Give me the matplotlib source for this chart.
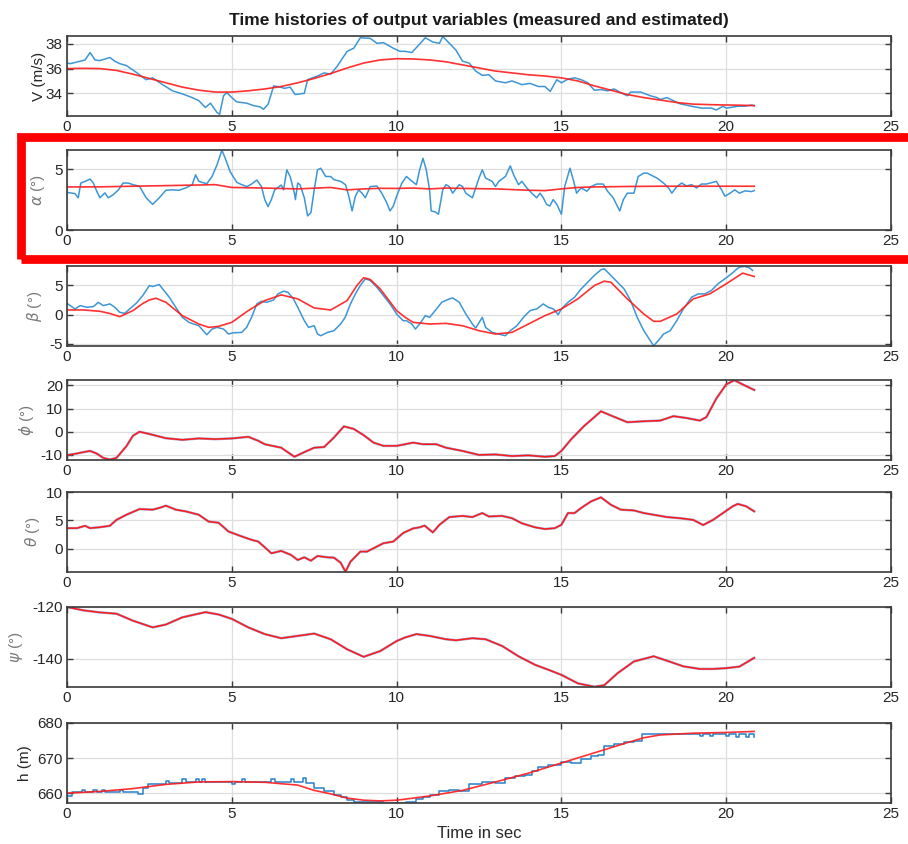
import numpy as np
import matplotlib
matplotlib.use("Agg")
import matplotlib.pyplot as plt
from matplotlib.patches import Rectangle

plt.rcParams['font.family'] = ['Liberation Sans Narrow', 'Liberation Sans', 'DejaVu Sans']
plt.rcParams['mathtext.fontset'] = 'dejavusans'
plt.rcParams['axes.unicode_minus'] = False

# ---- airspeed V (m/s) ----
t_V_meas = [0, 0.1, 0.25, 0.4, 0.55, 0.7, 0.85, 1.0, 1.3, 1.45, 1.6, 1.8, 2.1, 2.4, 2.6, 2.9,
            3.2, 3.5, 3.8, 4.0, 4.2, 4.35, 4.55, 4.63, 4.75, 4.85, 5.0, 5.15, 5.45, 5.66, 5.86,
            5.96, 6.1, 6.27, 6.47, 6.6, 6.77, 6.92, 7.2, 7.3, 7.6, 7.8, 8.0, 8.2, 8.5, 8.7, 8.9,
            9.2, 9.4, 9.6, 9.9, 10.1, 10.26, 10.46, 10.67, 10.87, 11.1, 11.3, 11.4, 11.6, 11.8,
            12.0, 12.2, 12.4, 12.6, 12.8, 13.0, 13.3, 13.5, 13.8, 14.05, 14.3, 14.5, 14.66,
            14.86, 15.0, 15.2, 15.4, 15.6, 15.8, 16.0, 16.2, 16.4, 16.6, 16.8, 17.0, 17.1, 17.4,
            17.7, 17.9, 18.0, 18.2, 18.4, 18.6, 18.95, 19.25, 19.55, 19.7, 19.9, 20.0, 20.36,
            20.56, 20.77, 20.85]
V_meas = [36.45, 36.4, 36.5, 36.6, 36.7, 37.3, 36.7, 36.65, 36.9, 36.6, 36.4, 36.25, 35.7, 35.1,
          35.25, 34.7, 34.2, 33.95, 33.65, 33.4, 32.85, 33.2, 32.45, 32.3, 33.8, 34.05, 33.65,
          33.3, 33.2, 33.0, 32.9, 32.7, 33.1, 34.6, 34.5, 34.4, 34.5, 33.9, 34.0, 35.1, 35.4,
          35.65, 35.55, 36.2, 37.4, 37.65, 38.5, 38.45, 38.05, 38.1, 37.65, 37.4, 37.4, 37.3,
          37.9, 38.5, 38.15, 38.05, 38.6, 38.05, 37.5, 36.6, 36.45, 35.8, 35.45, 35.5, 35.0,
          34.85, 35.0, 34.7, 34.8, 34.55, 34.55, 34.15, 35.1, 34.85, 35.15, 35.25, 35.1, 34.85,
          34.25, 34.3, 34.2, 34.35, 34.05, 33.8, 34.1, 34.1, 33.8, 33.65, 33.5, 33.65, 33.4,
          33.15, 32.95, 32.8, 32.8, 32.65, 32.95, 32.8, 32.95, 32.95, 33.05, 33.0]
t_V_est = [0, 0.5, 1.0, 1.5, 2.0, 2.5, 3.0, 3.5, 4.0, 4.5, 5.0, 5.5, 6.0, 6.5, 7.0, 7.5, 8.0,
           8.5, 9.0, 9.5, 10.0, 10.5, 11.0, 11.5, 12.0, 12.5, 13.0, 13.5, 14.0, 14.5, 15.0,
           15.5, 16.0, 16.5, 17.0, 17.5, 18.0, 18.5, 19.0, 19.5, 20.0, 20.5, 20.85]
V_est = [36.0, 36.02, 36.0, 35.85, 35.55, 35.2, 34.85, 34.5, 34.25, 34.1, 34.1, 34.2, 34.35,
         34.55, 34.85, 35.2, 35.6, 36.05, 36.45, 36.7, 36.8, 36.78, 36.7, 36.55, 36.3, 36.05,
         35.8, 35.65, 35.5, 35.4, 35.25, 35.0, 34.6, 34.25, 33.9, 33.65, 33.45, 33.25, 33.12,
         33.08, 33.05, 33.03, 33.0]

# ---- angle of attack alpha (deg) ----
t_a_meas = [0, 0.1, 0.24, 0.34, 0.42, 0.55, 0.7, 0.8, 0.9, 1.0, 1.15, 1.25, 1.4, 1.56, 1.7,
            1.86, 2.0, 2.2, 2.4, 2.6, 2.8, 3.0, 3.2, 3.4, 3.6, 3.8, 3.9, 4.0, 4.24, 4.4, 4.55,
            4.7, 4.8, 4.95, 5.15, 5.3, 5.46, 5.6, 5.76, 5.9, 6.0, 6.1, 6.2, 6.3, 6.5, 6.57,
            6.67, 6.77, 6.9, 6.93, 7.0, 7.07, 7.2, 7.3, 7.4, 7.5, 7.6, 7.7, 7.85, 8.0, 8.1, 8.3,
            8.45, 8.55, 8.65, 8.75, 8.85, 8.95, 9.05, 9.2, 9.4, 9.55, 9.7, 9.8, 9.9, 10.0,
            10.16, 10.3, 10.47, 10.6, 10.7, 10.8, 10.9, 11.0, 11.05, 11.17, 11.27, 11.4, 11.5,
            11.6, 11.7, 11.9, 12.0, 12.1, 12.3, 12.4, 12.5, 12.6, 12.7, 12.9, 13.0, 13.1, 13.3,
            13.45, 13.55, 13.7, 13.8, 13.95, 14.1, 14.25, 14.35, 14.45, 14.55, 14.65, 14.75,
            14.86, 15.0, 15.1, 15.26, 15.36, 15.46, 15.6, 15.77, 15.9, 16.07, 16.27, 16.4,
            16.57, 16.77, 16.88, 17.0, 17.2, 17.33, 17.5, 17.6, 17.8, 17.9, 18.1, 18.25, 18.35,
            18.5, 18.65, 18.8, 18.95, 19.1, 19.25, 19.4, 19.55, 19.7, 19.86, 19.96, 20.1, 20.26,
            20.4, 20.57, 20.77, 20.85]
a_meas = [3.1, 3.05, 3.0, 2.65, 3.86, 4.0, 4.19, 3.86, 3.2, 2.65, 3.05, 2.65, 2.9, 3.3, 3.86,
          3.86, 3.73, 3.6, 2.65, 2.11, 2.65, 3.27, 3.3, 3.27, 3.46, 3.73, 4.54, 4.0, 3.8, 4.4,
          5.35, 6.57, 5.9, 4.8, 3.92, 3.73, 3.57, 3.78, 4.11, 3.57, 2.5, 1.92, 2.5, 3.3, 3.7,
          3.3, 4.95, 4.4, 3.03, 2.5, 3.86, 3.73, 2.65, 1.16, 1.43, 3.3, 4.95, 5.08, 4.4, 4.4,
          4.14, 4.0, 3.73, 2.78, 1.57, 2.78, 3.3, 3.03, 2.65, 3.57, 3.62, 3.03, 2.24, 1.57,
          1.97, 2.78, 3.86, 4.4, 4.0, 3.73, 4.95, 5.9, 4.95, 3.3, 1.57, 1.49, 1.3, 3.3, 3.73,
          3.57, 3.03, 3.73, 3.57, 3.03, 2.65, 3.46, 4.27, 4.95, 4.27, 4.0, 3.57, 4.0, 4.4, 5.27,
          4.54, 3.73, 4.0, 3.46, 3.03, 2.65, 3.03, 2.65, 2.11, 1.97, 2.5, 2.11, 1.3, 3.57, 5.08,
          4.14, 3.03, 3.46, 3.19, 3.57, 3.78, 3.78, 3.19, 2.65, 1.57, 2.5, 3.03, 3.03, 4.4,
          4.68, 4.68, 4.4, 4.27, 3.86, 3.46, 3.03, 3.57, 3.86, 3.62, 3.73, 3.46, 3.78, 3.78,
          3.89, 4.0, 3.3, 2.78, 3.0, 3.3, 3.03, 3.22, 3.16, 3.24]
t_a_est = [0, 1, 2, 3, 4, 4.5, 5, 6, 7, 8, 8.5, 9, 9.5, 10, 10.5, 11, 11.5, 12, 13, 14, 14.5,
           15, 15.5, 16, 17, 18, 19, 20, 20.85]
a_est = [3.54, 3.55, 3.6, 3.65, 3.7, 3.73, 3.5, 3.45, 3.38, 3.5, 3.3, 3.38, 3.43, 3.42, 3.45,
         3.38, 3.45, 3.42, 3.38, 3.27, 3.24, 3.38, 3.5, 3.54, 3.58, 3.6, 3.6, 3.6, 3.6]

# ---- sideslip beta (deg) ----
t_b_meas = [0, 0.14, 0.24, 0.4, 0.6, 0.8, 0.95, 1.1, 1.3, 1.45, 1.6, 1.75, 1.9, 2.1, 2.3, 2.5,
            2.6, 2.8, 2.9, 3.1, 3.3, 3.5, 3.7, 3.84, 4.0, 4.24, 4.4, 4.55, 4.75, 4.9, 5.05, 5.3,
            5.45, 5.6, 5.76, 5.9, 6.06, 6.27, 6.4, 6.57, 6.7, 6.87, 7.0, 7.2, 7.33, 7.5, 7.6,
            7.7, 7.9, 8.1, 8.3, 8.44, 8.6, 8.75, 8.9, 9.05, 9.2, 9.4, 9.6, 9.8, 10.0, 10.2,
            10.3, 10.46, 10.57, 10.7, 10.87, 11.0, 11.17, 11.37, 11.6, 11.7, 11.9, 12.1, 12.3,
            12.4, 12.6, 12.7, 12.9, 13.1, 13.3, 13.45, 13.65, 13.85, 14.05, 14.25, 14.45, 14.6,
            14.76, 14.9, 15.0, 15.2, 15.4, 15.6, 15.8, 16.0, 16.2, 16.3, 16.5, 16.7, 16.9, 17.1,
            17.3, 17.5, 17.7, 17.8, 17.98, 18.1, 18.3, 18.5, 18.7, 18.95, 19.15, 19.35, 19.55,
            19.75, 19.96, 20.16, 20.3, 20.4, 20.56, 20.7, 20.8]
b_meas = [1.94, 1.37, 0.97, 1.54, 1.26, 1.37, 2.1, 1.54, 1.83, 1.26, 0.4, 0.23, 0.97, 1.94,
          3.26, 4.97, 4.8, 5.14, 4.4, 3.0, 1.26, -0.46, -1.31, -1.6, -1.89, -3.43, -2.46,
          -2.17, -2.46, -3.31, -3.09, -3.03, -2.17, -0.46, 1.83, 2.29, 2.11, 2.51, 3.54, 4.0,
          3.83, 2.69, 1.26, -1.03, -2.17, -1.89, -3.31, -3.6, -3.03, -2.74, -1.6, -0.46, 1.83,
          3.54, 4.97, 6.11, 5.83, 4.69, 3.26, 1.83, 0.11, -1.03, -1.03, -1.6, -2.46, -1.6,
          -0.17, -0.46, 0.69, 2.11, 2.69, 2.86, 2.11, 0.11, -1.6, -2.29, -0.46, -2.17, -3.03,
          -3.31, -3.6, -2.74, -1.89, -0.46, 0.69, 0.97, 1.83, 1.26, 0.97, 0.0, 0.97, 2.11, 2.97,
          4.4, 5.54, 6.69, 7.66, 7.83, 6.69, 5.54, 4.4, 2.4, -0.46, -2.74, -4.46, -5.31, -4.17,
          -3.31, -2.74, -1.03, 0.97, 2.97, 3.54, 3.54, 4.11, 5.26, 6.11, 6.97, 7.66, 8.11,
          8.23, 8.0, 7.54]
t_b_est = [0, 0.5, 1.0, 1.3, 1.6, 2.0, 2.3, 2.5, 2.7, 3.0, 3.5, 4.0, 4.3, 4.6, 5.0, 5.5, 6.0,
           6.5, 7.0, 7.5, 8.0, 8.5, 8.8, 9.0, 9.2, 9.5, 10.0, 10.26, 10.5, 11.0, 11.5, 12.0,
           12.5, 13.0, 13.5, 14.0, 14.5, 15.0, 15.5, 16.0, 16.3, 16.5, 17.0, 17.5, 17.8, 18.0,
           18.5, 19.0, 19.5, 20.0, 20.5, 20.85]
b_est = [0.8, 0.8, 0.57, 0.2, -0.34, 0.69, 1.9, 2.51, 2.8, 2.11, -0.17, -1.6, -2.17, -2.0,
         -1.31, 0.69, 2.4, 3.37, 2.69, 1.14, 0.8, 2.4, 5.0, 6.3, 6.0, 4.4, 0.69, -0.46, -1.31,
         -1.6, -1.49, -1.89, -2.74, -3.31, -3.03, -1.6, -0.17, 0.97, 2.69, 4.97, 5.71, 5.54,
         2.69, 0.11, -1.14, -1.14, 0.11, 2.69, 3.54, 5.26, 7.09, 6.51]

# ---- bank angle phi (deg) ----
t_phi = [0, 0.3, 0.5, 0.7, 0.9, 1.1, 1.3, 1.5, 1.8, 2.0, 2.2, 2.5, 3.0, 3.5, 4.0, 4.5, 5.0,
         5.5, 5.8, 6.0, 6.5, 6.9, 7.2, 7.5, 7.8, 8.1, 8.4, 8.7, 9.0, 9.3, 9.6, 10.0, 10.26,
         10.5, 10.8, 11.2, 11.5, 12.0, 12.5, 13.0, 13.5, 14.0, 14.5, 14.8, 15.0, 15.3, 15.7,
         16.0, 16.2, 16.5, 17.0, 17.5, 18.0, 18.4, 18.8, 19.2, 19.4, 19.7, 20.0, 20.25, 20.5,
         20.85]
phi = [-10.1, -9.4, -8.8, -8.3, -9.4, -11.3, -12.0, -11.3, -6.3, -1.76, 0.0, -1.0, -2.8,
       -3.5, -2.9, -3.2, -2.9, -2.2, -3.9, -5.4, -6.9, -10.8, -8.8, -6.9, -6.6, -2.5, 2.3,
       1.2, -1.5, -4.7, -6.1, -6.1, -5.4, -4.7, -5.4, -5.4, -6.9, -8.3, -10.0, -9.8, -10.5,
       -10.2, -10.8, -10.5, -8.3, -3.2, 2.6, 6.3, 8.8, 7.0, 4.1, 4.5, 4.8, 6.7, 5.9, 4.8, 6.3,
       14.3, 20.4, 22.2, 20.4, 18.0]

# ---- pitch angle theta (deg) ----
t_theta = [0, 0.3, 0.55, 0.7, 1.0, 1.3, 1.5, 1.8, 2.2, 2.6, 2.8, 3.0, 3.3, 3.6, 4.0, 4.3,
           4.6, 4.9, 5.3, 5.6, 5.8, 6.0, 6.2, 6.5, 6.8, 7.0, 7.2, 7.4, 7.6, 7.9, 8.1, 8.3,
           8.45, 8.6, 8.9, 9.1, 9.3, 9.6, 9.9, 10.2, 10.5, 10.7, 10.85, 11.1, 11.3, 11.6, 12.0,
           12.3, 12.6, 12.8, 13.2, 13.5, 13.8, 14.2, 14.5, 14.8, 15.0, 15.2, 15.4, 15.6, 15.9,
           16.2, 16.5, 16.8, 17.2, 17.5, 17.8, 18.2, 18.6, 19.0, 19.3, 19.6, 19.9, 20.2, 20.35,
           20.6, 20.85]
theta = [3.65, 3.65, 4.06, 3.65, 3.82, 4.06, 5.1, 6.0, 7.0, 6.9, 7.2, 7.6, 6.9, 6.6, 6.0,
         4.8, 4.6, 3.06, 2.2, 1.6, 1.3, 0.3, -0.76, -0.35, -1.06, -1.94, -1.47, -2.06, -1.24,
         -1.47, -1.53, -2.41, -4.0, -2.24, -0.47, -0.47, 0.12, 1.0, 1.3, 2.8, 3.6, 3.8, 4.1,
         2.9, 4.24, 5.6, 5.8, 5.6, 6.3, 5.7, 5.8, 5.4, 4.5, 3.8, 3.5, 3.65, 4.24, 6.3, 6.3,
         7.2, 8.35, 9.06, 7.76, 6.9, 6.76, 6.3, 6.0, 5.6, 5.4, 5.1, 4.2, 5.1, 6.3, 7.5, 7.9,
         7.5, 6.6]

# ---- heading psi (deg) ----
t_psi = [0, 0.5, 1.0, 1.5, 2.0, 2.6, 3.0, 3.5, 4.2, 4.6, 5.0, 5.5, 6.0, 6.5, 7.0, 7.5, 8.0,
         8.5, 9.0, 9.5, 10.0, 10.26, 10.6, 11.0, 11.5, 11.8, 12.3, 12.7, 13.2, 13.7, 14.2,
         14.6, 15.0, 15.5, 16.0, 16.3, 16.7, 17.2, 17.8, 18.2, 18.7, 19.2, 19.6, 20.0, 20.4,
         20.85]
psi = [-120.0, -121.3, -122.1, -122.6, -125.3, -127.9, -126.8, -124.0, -122.0, -122.9,
       -124.6, -127.9, -130.5, -132.1, -131.2, -130.3, -132.5, -136.4, -139.3, -137.1,
       -133.2, -131.8, -130.5, -131.2, -132.5, -132.9, -132.1, -132.5, -135.1, -139.1,
       -142.4, -144.3, -146.3, -149.6, -150.9, -150.3, -145.7, -141.1, -139.1, -140.8,
       -143.0, -144.0, -144.0, -143.7, -143.1, -139.7]

# ---- altitude h (m) ----
t_h_meas = [0, 0.15, 0.45, 0.55, 0.8, 0.9, 1.05, 1.15, 1.6, 1.7, 2.15, 2.3, 2.45, 3.0, 3.1,
            3.5, 3.6, 3.9, 4.0, 4.1, 4.2, 5.0, 5.1, 5.3, 5.4, 6.2, 6.3, 6.8, 6.9, 7.15, 7.25,
            7.5, 7.8, 8.1, 8.3, 8.5, 8.7, 9.5, 9.6, 10.3, 10.6, 10.8, 11.0, 11.3, 11.6, 11.9,
            12.2, 12.6, 13.0, 13.3, 13.6, 13.9, 14.1, 14.3, 14.6, 15.0, 15.3, 15.6, 15.9, 16.1,
            16.3, 16.6, 16.9, 17.2, 17.45, 19.2, 19.3, 19.5, 19.6, 20.0, 20.1, 20.3, 20.4,
            20.6, 20.7, 20.85]
h_meas = [659.3, 660.3, 661.0, 660.3, 660.8, 660.3, 661.0, 660.3, 660.8, 660.3, 659.8, 661.5,
          662.7, 663.5, 662.9, 664.0, 663.1, 664.0, 663.2, 664.0, 663.2, 662.6, 663.2, 664.0,
          663.2, 664.0, 663.2, 664.0, 663.2, 664.2, 663.0, 661.6, 660.5, 659.6, 659.0, 658.0,
          657.4, 657.6, 657.3, 657.6, 658.3, 659.0, 659.6, 660.5, 661.0, 660.6, 662.5, 663.3,
          663.0, 664.2, 664.8, 665.3, 666.3, 667.4, 668.0, 669.0, 668.6, 669.6, 670.5, 671.0,
          673.5, 674.0, 674.6, 675.0, 676.8, 676.2, 676.8, 676.2, 676.8, 676.2, 676.8, 676.1,
          676.8, 676.0, 676.8, 676.0]
t_h_est = [0, 1, 2, 3, 4, 5, 6, 7, 7.5, 8, 8.5, 9, 9.5, 10, 10.26, 11, 12, 13, 14, 15, 16,
           17, 17.5, 18, 19, 20, 20.85]
h_est = [660.0, 660.5, 661.3, 662.5, 663.2, 663.3, 663.1, 662.3, 660.8, 659.8, 658.6, 658.0,
         657.8, 658.0, 658.3, 659.2, 660.8, 663.2, 665.7, 668.6, 671.5, 674.4, 675.8, 676.6,
         677.1, 677.3, 677.6]

BLUE = '#3c96d6'
RED = '#ff1a1a'
FRAME = '#3a3a3a'

W, H = 908, 844
fig = plt.figure(figsize=(W / 100, H / 100), dpi=100)

# panel layout in pixels: top edge of each axes, common height
tops = [36, 150, 266, 380, 492, 607, 723]
ax_h = 80
x0, x1 = 67, 891

# lx = pixel column of the y-label's right edge
panels = [
    dict(ylabel='V (m/s)', ylim=(32.16, 38.64), yticks=[34, 36, 38], lx=46, grey=False),
    dict(ylabel=r'$\alpha$ (°)', ylim=(0, 6.58), yticks=[0, 5], lx=47, grey=True),
    dict(ylabel=r'$\beta$ (°)', ylim=(-5.35, 8.3), yticks=[-5, 0, 5], lx=44, grey=True),
    dict(ylabel=r'$\phi$ (°)', ylim=(-12.2, 22.3), yticks=[-10, 0, 10, 20], lx=36, grey=True),
    dict(ylabel=r'$\theta$ (°)', ylim=(-4.05, 10), yticks=[0, 5, 10], lx=42, grey=True),
    dict(ylabel=r'$\psi$ (°)', ylim=(-151, -120), yticks=[-140, -120], lx=25, grey=True),
    dict(ylabel='h (m)', ylim=(657.2, 680), yticks=[660, 670, 680], lx=32, grey=False),
]

axes = []
for top, p in zip(tops, panels):
    ax = fig.add_axes([x0 / W, 1 - (top + ax_h) / H, (x1 - x0) / W, ax_h / H])
    ax.set_xlim(0, 25)
    ax.set_ylim(*p['ylim'])
    ax.set_xticks([0, 5, 10, 15, 20, 25])
    ax.set_yticks(p['yticks'])
    ax.grid(True, color='#dedede', lw=0.9)
    ax.set_axisbelow(True)
    ax.tick_params(direction='in', length=4, width=1.0, colors=FRAME, labelsize=11,
                   top=True, right=True, labelcolor='#262626', pad=3)
    for s in ax.spines.values():
        s.set_color(FRAME)
        s.set_linewidth(1.2)
    ax.set_ylabel(p['ylabel'], fontsize=11,
                  color='#7a7a7a' if p['grey'] else '#262626')
    ax.yaxis.set_label_coords((p['lx'] - x0) / (x1 - x0), 0.5)
    axes.append(ax)

# measured (blue) and estimated (red) histories
axes[0].plot(t_V_meas, V_meas, color=BLUE, lw=1.1)
axes[0].plot(t_V_est, V_est, color=RED, lw=1.2, alpha=0.9)
axes[1].plot(t_a_meas, a_meas, color=BLUE, lw=1.1)
axes[1].plot(t_a_est, a_est, color=RED, lw=1.2, alpha=0.9)
axes[2].plot(t_b_meas, b_meas, color=BLUE, lw=1.1)
axes[2].plot(t_b_est, b_est, color=RED, lw=1.2, alpha=0.9)
for ax, t, y in [(axes[3], t_phi, phi), (axes[4], t_theta, theta), (axes[5], t_psi, psi)]:
    ax.plot(t, y, color='#5a6fb8', lw=1.8, alpha=0.6)
    ax.plot(t, y, color=RED, lw=1.1)
axes[6].plot(t_h_meas, h_meas, color='#2680cc', lw=1.1, drawstyle='steps-post')
axes[6].plot(t_h_est, h_est, color=RED, lw=1.2, alpha=0.9)

fig.text((x0 + x1) / 2 / W, 1 - 20 / H,
         'Time histories of output variables (measured and estimated)',
         ha='center', va='center', fontsize=12.5, fontweight='bold', color='#1a1a1a')
fig.text((x0 + x1) / 2 / W, 1 - 834 / H, 'Time in sec',
         ha='center', va='center', fontsize=12, color='#262626')

# highlight frame around the alpha panel
rx0, ry_top, ry_bot = 20.5, 136.5, 258.5
fig.add_artist(Rectangle((rx0 / W, 1 - ry_bot / H), (930 - rx0) / W, (ry_bot - ry_top) / H,
                         transform=fig.transFigure, fill=False, ec='#ff0000', lw=6.3,
                         clip_on=False))

fig.savefig('out.png', dpi=100)
